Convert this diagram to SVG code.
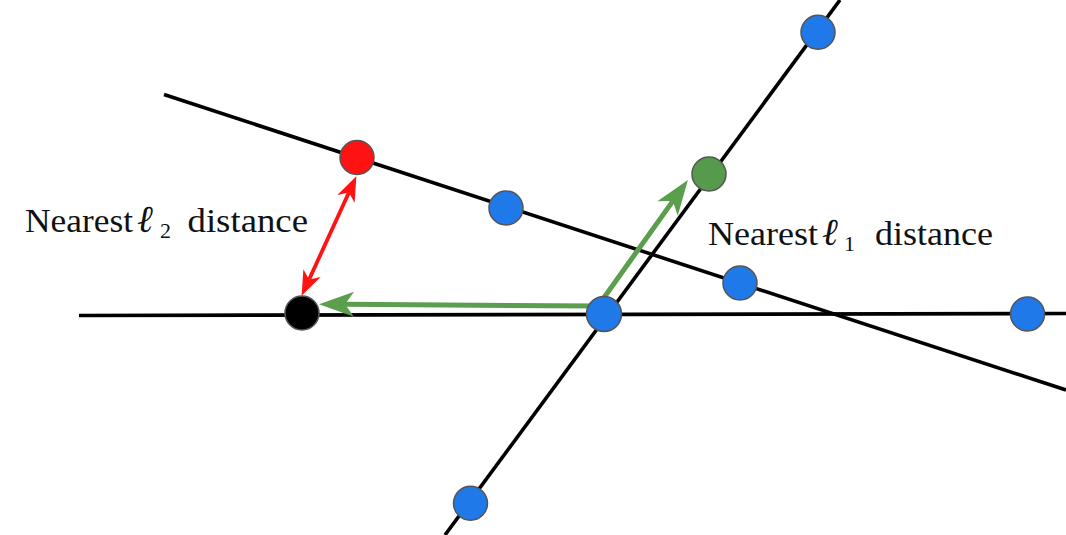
<svg xmlns="http://www.w3.org/2000/svg" width="1066" height="535" viewBox="0 0 1066 535">
<style>
.ln{stroke:#000;stroke-width:3.6;fill:none}
.dot{stroke:#555;stroke-width:1.5}
.blue{fill:#2079e8}
.lbl{font-family:"Liberation Serif","Times New Roman",serif;font-size:33px;fill:#111}
.ell{font-family:"Liberation Serif","DejaVu Serif",serif;font-style:italic;font-size:38px;fill:#111}
.sub{font-family:"Liberation Serif","Times New Roman",serif;font-size:22px;fill:#111}
</style>
<defs>
<marker id="gh" markerUnits="userSpaceOnUse" viewBox="0 -13 36 26" markerWidth="36" markerHeight="26" refX="9" refY="0" orient="auto-start-reverse" overflow="visible">
<path d="M35,0 L0,-12.5 L9,0 L0,12.5 Z" fill="#5a9e4e"/>
</marker>
<marker id="rh" markerUnits="userSpaceOnUse" viewBox="0 -10 26 20" markerWidth="26" markerHeight="20" refX="7" refY="0" orient="auto-start-reverse" overflow="visible">
<path d="M25,0 L0,-9.5 L7,0 L0,9.5 Z" fill="#ff1212"/>
</marker>
</defs>
<rect width="1066" height="535" fill="#fff"/>
<g id="lines">
<line class="ln" x1="79" y1="315.5" x2="1066" y2="313.5"/>
<line class="ln" x1="164" y1="94.5" x2="1066" y2="390"/>
<line class="ln" x1="445" y1="535" x2="840" y2="0"/>
</g>
<g id="connectors">
<path d="M672.8,201.1 L598,306 L345,304.3" fill="none" stroke="#5a9e4e" stroke-width="5" stroke-linejoin="round" marker-start="url(#gh)" marker-end="url(#gh)"/>
<path d="M348.9,192.5 L309.1,279.5" fill="none" stroke="#ff1212" stroke-width="3.8" marker-start="url(#rh)" marker-end="url(#rh)"/>
</g>
<g id="dot-top"><circle class="dot blue" cx="818" cy="32.3" r="17"/></g>
<g id="dot-red"><circle class="dot" fill="#ff1212" cx="357" cy="157.5" r="17"/></g>
<g id="dot-green"><circle class="dot" fill="#559a4d" cx="709" cy="174" r="17"/></g>
<g id="dot-b1"><circle class="dot blue" cx="506" cy="208" r="17"/></g>
<g id="dot-b2"><circle class="dot blue" cx="740" cy="283" r="17"/></g>
<g id="dot-center"><circle class="dot blue" cx="604" cy="314" r="17.5"/></g>
<g id="dot-black"><circle class="dot" fill="#000" cx="302" cy="313" r="17"/></g>
<g id="dot-right"><circle class="dot blue" cx="1027.5" cy="314" r="17"/></g>
<g id="dot-bottom"><circle class="dot blue" cx="470.5" cy="503.3" r="17"/></g>
<g id="label-l2">
<text class="lbl" x="25" y="232" textLength="108" lengthAdjust="spacingAndGlyphs">Nearest</text>
<text class="ell" x="137" y="232">ℓ</text>
<text class="sub" x="160" y="238">2</text>
<text class="lbl" x="187.5" y="232" textLength="120.5" lengthAdjust="spacingAndGlyphs">distance</text>
</g>
<g id="label-l1">
<text class="lbl" x="708" y="244.5" textLength="110" lengthAdjust="spacingAndGlyphs">Nearest</text>
<text class="ell" x="822" y="244.5">ℓ</text>
<text class="sub" x="844" y="250.5">1</text>
<text class="lbl" x="875" y="244.5" textLength="118" lengthAdjust="spacingAndGlyphs">distance</text>
</g>
</svg>
